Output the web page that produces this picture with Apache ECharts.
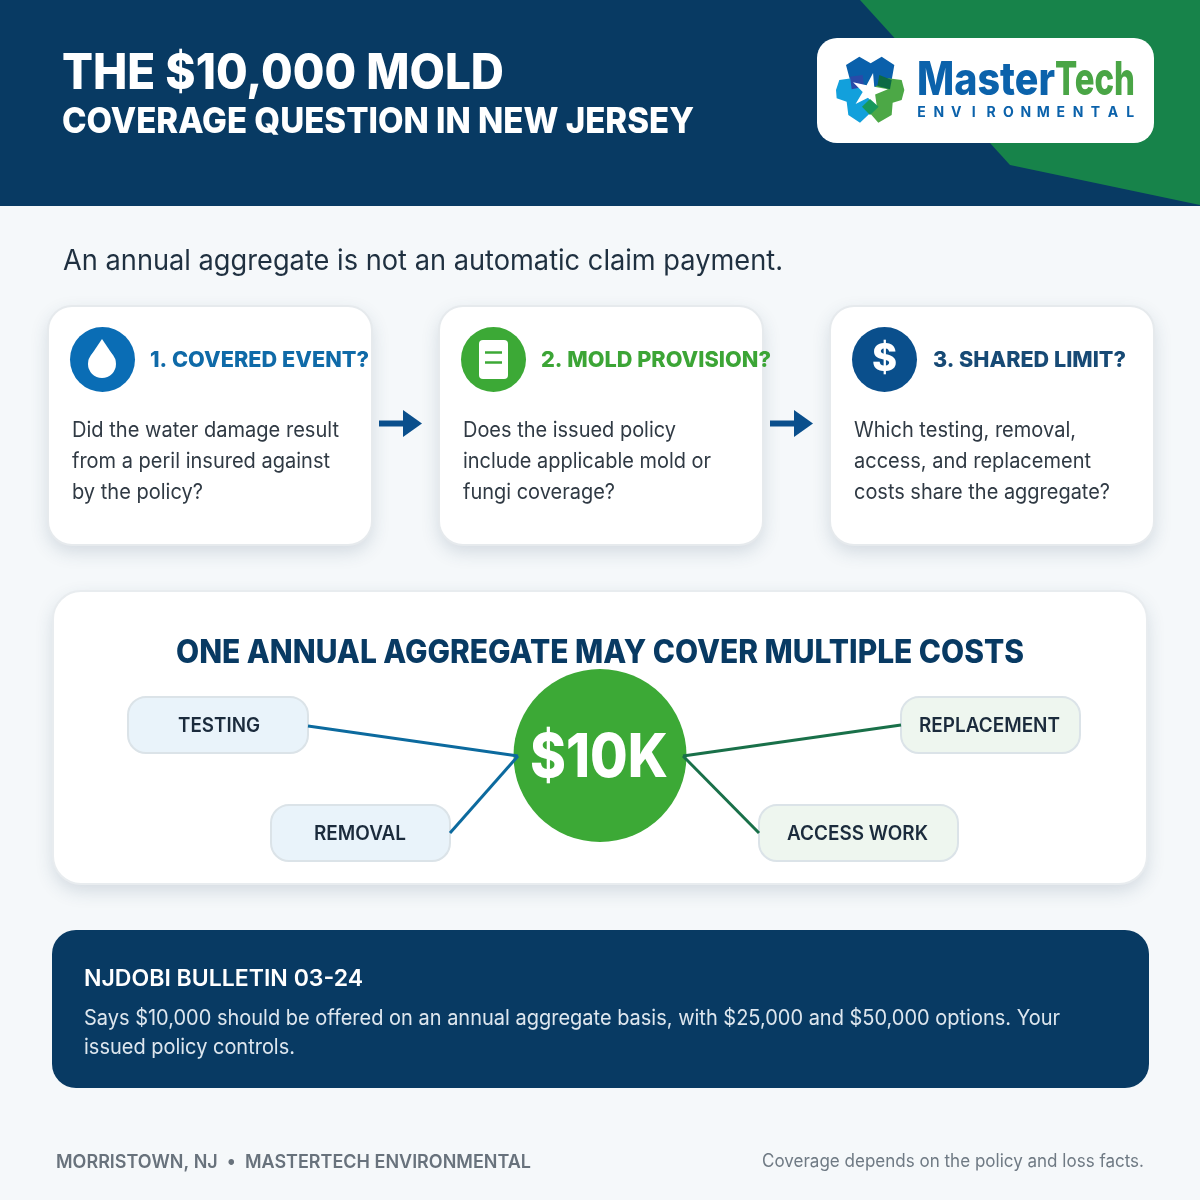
<!DOCTYPE html>
<html lang="en">
<head>
<meta charset="utf-8">
<title>The $10,000 mold coverage question in New Jersey</title>
<style>html,body{margin:0;padding:0;background:#f5f8fa}#main{width:1200px;height:1200px}</style>
</head>
<body>
<div id="main"></div>
<script src="https://cdn.jsdelivr.net/npm/echarts@6/dist/echarts.min.js"></script>
<script>
var titleLines = ['THE $10,000 MOLD', 'COVERAGE QUESTION IN NEW JERSEY'];
var subtitle = 'An annual aggregate is not an automatic claim payment.';
var stepTitles = ['1. COVERED EVENT?', '2. MOLD PROVISION?', '3. SHARED LIMIT?'];
var stepBodies = [
  ['Did the water damage result', 'from a peril insured against', 'by the policy?'],
  ['Does the issued policy', 'include applicable mold or', 'fungi coverage?'],
  ['Which testing, removal,', 'access, and replacement', 'costs share the aggregate?']
];
var panelTitle = 'ONE ANNUAL AGGREGATE MAY COVER MULTIPLE COSTS';
var hubLabel = '$10K';
var costLabels = ['TESTING', 'REMOVAL', 'REPLACEMENT', 'ACCESS WORK'];
var noteTitle = 'NJDOBI BULLETIN 03-24';
var noteLines = ['Says $10,000 should be offered on an annual aggregate basis, with $25,000 and $50,000 options. Your', 'issued policy controls.'];
var footerLeft = 'MORRISTOWN, NJ  \u2022  MASTERTECH ENVIRONMENTAL';
var footerRight = 'Coverage depends on the policy and loss facts.';

var NAVY = '#083a63', GREEN = '#3ca936', BLUE = '#0a6db5', DEEP = '#0a4f8c';
var FONT = 'Inter';
var measure = document.createElement('canvas').getContext('2d');

// text squeezed to the width it has in the picture
function txt(str, x, y, size, weight, color, w, z) {
  measure.font = weight + ' ' + size + 'px ' + FONT;
  var sx = w ? w / measure.measureText(str).width : 1;
  return {
    type: 'text', x: x, y: y, scaleX: sx, z: z || 10,
    style: { text: str, x: 0, y: 0, fontFamily: FONT, fontSize: size, fontWeight: weight, fill: color, textAlign: 'left', textVerticalAlign: 'middle' }
  };
}
function box(x, y, w, h, r, fill, stroke, lw) {
  var s = { fill: fill };
  if (stroke) { s.stroke = stroke; s.lineWidth = lw; }
  return { type: 'rect', z: 2, shape: { x: x, y: y, width: w, height: h, r: r }, style: s };
}
// shadow goes on its own rect, otherwise the stroke throws it inside the card
function shadowBox(x, y, w, h, r) {
  return {
    type: 'rect', z: 1, shape: { x: x, y: y, width: w, height: h, r: r },
    style: { fill: '#fff', shadowBlur: 18, shadowColor: 'rgba(40,70,100,0.17)', shadowOffsetY: 7 }
  };
}
function poly(points, fill, z) {
  return { type: 'polygon', z: z || 3, shape: { points: points }, style: { fill: fill } };
}
function line(x1, y1, x2, y2, color, lw) {
  return { type: 'line', z: 6, shape: { x1: x1, y1: y1, x2: x2, y2: y2 }, style: { stroke: color, lineWidth: lw } };
}

var els = [];

// header
els.push({ type: 'rect', z: 0, shape: { x: 0, y: 0, width: 1200, height: 206 }, style: { fill: NAVY } });
els.push(poly([[860, 0], [1200, 0], [1200, 205], [1010, 165], [990, 143]], '#17834a', 1));
els.push(txt(titleLines[0], 62, 74.5, 49, 800, '#fff', 442));
els.push(txt(titleLines[1], 62, 122, 36, 800, '#fff', 632));

// logo
els.push(box(817, 38, 337, 105, 20, '#fff'));
function lg(pts) { return pts.map(function (p) { return [800 + p[0] / 3, p[1] / 3]; }); }
els.push(poly(lg([[138, 195], [178, 170], [212, 190], [245, 170], [283, 195], [275, 240], [212, 272], [150, 240]]), '#0a60ab'));
els.push(poly(lg([[108, 270], [118, 240], [155, 235], [210, 270], [210, 340], [180, 368], [145, 345], [140, 305], [110, 295]]), '#12a0dc'));
els.push(poly(lg([[305, 240], [313, 270], [305, 300], [278, 308], [275, 345], [235, 368], [210, 340], [210, 270], [265, 235]]), '#4ca846'));
els.push(poly(lg([[150, 230], [188, 225], [192, 260], [155, 268]]), '#2a4aa8'));
els.push(poly(lg([[238, 225], [275, 240], [270, 268], [232, 258]]), '#0c6a45'));
var star = [];
for (var i = 0; i < 10; i++) {
  var ang = -Math.PI / 2 + 0.2 + i * Math.PI / 5, rr = i % 2 ? 20 : 56;
  star.push([208 + rr * Math.cos(ang), 274 + rr * Math.sin(ang)]);
}
els.push(poly(lg(star), '#fff', 4));
els.push(poly(lg([[210, 297], [236, 320], [210, 345], [186, 320]]), '#17985c', 5));
els.push(txt('Master', 917, 81, 46, 800, '#0b62ab', 138));
els.push(txt('Tech', 1055, 81, 46, 800, '#4aa546', 80));
'ENVIRONMENTAL'.split('').forEach(function (c, k) {
  var t = txt(c, 921.5 + k * 17.4, 112.5, 14, 700, '#0b62ab');
  t.style.textAlign = 'center';
  els.push(t);
});

// subtitle
els.push(txt(subtitle, 63, 262, 28, 400, '#1f3040', 720));

// step cards
var cardX = [48, 439, 830];
var iconColors = [BLUE, GREEN, DEEP];
var titleColors = ['#0f6aa8', '#3ca536', '#174a75'];
var titleWidths = [219, 230, 193];
var bodyWidths = [[267, 258, 131], [213, 248, 152], [222, 237, 256]];
cardX.forEach(function (x, k) {
  els.push(shadowBox(x, 306, 324, 239, 24));
  els.push(box(x, 306, 324, 239, 24, '#fff', '#e6eaed', 2));
  els.push({ type: 'circle', z: 3, shape: { cx: x + 54.5, cy: 359.5, r: 32.5 }, style: { fill: iconColors[k] } });
  els.push(txt(stepTitles[k], x + 102 + (k === 2 ? 1 : 0), 360.5, 22, 800, titleColors[k], titleWidths[k], 12));
  stepBodies[k].forEach(function (s, j) {
    els.push(txt(s, x + 24, 431 + j * 31, 21, 400, '#303a44', bodyWidths[k][j]));
  });
});
// drop, document and dollar icons
els.push({ type: 'circle', z: 4, shape: { cx: 102, cy: 364, r: 14 }, style: { fill: '#fff' } });
els.push(poly([[102, 339], [113.6, 356.2], [90.4, 356.2]], '#fff', 4));
els.push({ type: 'rect', z: 4, shape: { x: 479, y: 340, width: 29, height: 39, r: 4 }, style: { fill: '#fff' } });
els.push(line(485, 352.5, 502, 352.5, GREEN, 2.5));
els.push(line(485, 362.5, 502, 362.5, GREEN, 2.5));
var dollar = txt('$', 884.5, 360, 38, 800, '#fff');
dollar.style.textAlign = 'center';
els.push(dollar);

// arrows between the cards
[379, 770].forEach(function (x) {
  els.push(line(x, 423.5, x + 30, 423.5, DEEP, 6));
  els.push(poly([[x + 24, 410], [x + 43, 423.5], [x + 24, 437]], DEEP, 6));
});

// aggregate panel
els.push(shadowBox(53, 591, 1094, 293, 28));
els.push(box(53, 591, 1094, 293, 28, '#fff', '#e8ecef', 2));
els.push(txt(panelTitle, 176, 653, 32, 800, NAVY, 848));
els.push({ type: 'circle', z: 4, shape: { cx: 600, cy: 755.5, r: 86.5 }, style: { fill: GREEN } });
els.push(txt(hubLabel, 530, 758.5, 60, 800, '#fff', 138));
var pillX = [128, 271, 901, 759], pillY = [697, 805, 697, 805], pillW = [180, 179, 179, 199];
var pillFill = ['#e9f3fa', '#e9f3fa', '#eef6ef', '#eef6ef'];
var labelX = [178, 314, 919, 787], labelW = [82, 92, 141, 141];
costLabels.forEach(function (s, k) {
  els.push(box(pillX[k], pillY[k], pillW[k], 56, 18, pillFill[k], '#dbe3e8', 2));
  els.push(txt(s, labelX[k], pillY[k] + 29, 19.5, 600, '#1b2b3c', labelW[k]));
});
els.push(line(308, 726, 518, 756, '#0c6a9e', 3));
els.push(line(450, 833, 518, 756, '#0c6a9e', 3));
els.push(line(901, 725, 683, 756, '#197049', 3));
els.push(line(759, 833, 683, 756, '#197049', 3));

// bulletin box
els.push(box(52, 930, 1097, 158, 24, NAVY));
els.push(txt(noteTitle, 84, 979, 23, 600, '#fff', 279));
els.push(txt(noteLines[0], 84, 1019, 21, 400, '#dde6ee', 976));
els.push(txt(noteLines[1], 84, 1048, 21, 400, '#dde6ee', 211));

// footer
els.push(txt(footerLeft, 56, 1162, 19, 600, '#68727c', 475));
els.push(txt(footerRight, 762, 1162, 18, 400, '#6f7a84', 382));

var chart = echarts.init(document.getElementById('main'));
chart.setOption({
  backgroundColor: '#f5f8fa',
  animation: false,
  graphic: { elements: els }
});
</script>
</body>
</html>
